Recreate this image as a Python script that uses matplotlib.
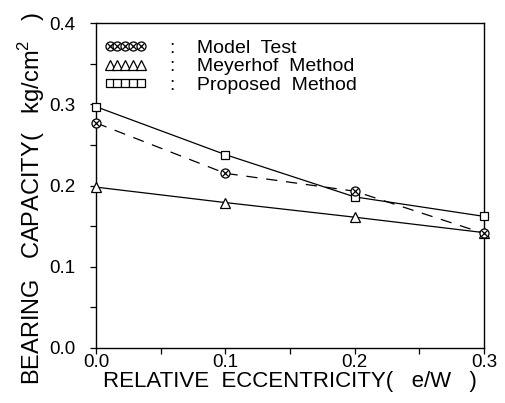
import matplotlib
matplotlib.use("Agg")
import matplotlib.pyplot as plt
from matplotlib.lines import Line2D
from matplotlib.legend_handler import HandlerTuple

plt.rcParams['font.family'] = ['Liberation Sans', 'DejaVu Sans']
plt.rcParams['mathtext.fontset'] = 'custom'
plt.rcParams['mathtext.rm'] = 'Liberation Sans'

ecc = [0.0, 0.1, 0.2, 0.3]
model_test = [0.277, 0.215, 0.193, 0.141]
meyerhof = [0.198, 0.179, 0.161, 0.142]
proposed = [0.297, 0.238, 0.186, 0.162]

xticks = [0.0, 0.1, 0.2, 0.3]
yticks = [0.0, 0.1, 0.2, 0.3, 0.4]

fig = plt.figure(figsize=(5.06, 4.03), dpi=100)
ax = fig.add_axes([96/506, 1-348/403, (484-96)/506, (348-23)/403])

ms = 6.5
lw = 0.9
mk = dict(mfc='white', mec='black', mew=0.9, clip_on=False)
ax.plot(ecc, proposed, color='black', lw=lw, marker='s', ms=ms-0.5, zorder=3, **mk)
ax.plot(ecc, meyerhof, color='black', lw=lw, marker='^', ms=ms, zorder=3, **mk)
ax.plot(ecc, model_test, color='black', lw=lw, ls=(0, (9, 7)), marker='o', ms=ms, zorder=4, **mk)
ax.plot(ecc, model_test, ls='none', marker='x', ms=ms-2.5, mec='black', mew=0.9, zorder=5, clip_on=False)

ax.set_xlim(0, 0.3)
ax.set_ylim(0, 0.4)
ax.set_xticks(xticks)
ax.set_yticks(yticks)
ax.set_xticklabels([f"{v:.1f}" for v in xticks])
ax.set_yticklabels([f"{v:.1f}" for v in yticks])
ax.set_xticks([0.05, 0.15, 0.25], minor=True)
ax.set_yticks([0.05, 0.15, 0.25, 0.35], minor=True)
ax.tick_params(which='both', direction='out', length=4, width=0.9, labelsize=13.5, color='black')
ax.tick_params(axis='y', pad=11)
ax.tick_params(axis='x', pad=0)
for s in ax.spines.values():
    s.set_linewidth(1.0)

ax.set_xlabel("RELATIVE  ECCENTRICITY(   e/W   )", fontsize=16, labelpad=0.5)
ax.set_ylabel("BEARING   CAPACITY(   kg/cm$^2$   )", fontsize=17, labelpad=0)
ax.yaxis.set_label_coords(-0.125, 0.46)

h_circ = Line2D([], [], ls='none', marker='o', ms=ms, mfc='white', mec='black', mew=0.9)
h_x = Line2D([], [], ls='none', marker='x', ms=ms-2.5, mec='black', mew=0.9)
h_tri = Line2D([], [], ls='none', marker='^', ms=ms, mfc='white', mec='black', mew=0.9)
h_sq = Line2D([], [], ls='none', marker='s', ms=ms-0.5, mfc='white', mec='black', mew=0.9)
leg = ax.legend([(h_circ, h_x), h_tri, h_sq],
                [":    Model  Test", ":    Meyerhof  Method", ":    Proposed  Method"],
                handler_map={tuple: HandlerTuple(ndivide=1, pad=0)},
                numpoints=5, loc='upper left', bbox_to_anchor=(0.02, 0.95),
                frameon=False, fontsize=14, handlelength=2.2, handletextpad=1.2,
                labelspacing=0.05, borderpad=0, borderaxespad=0)

fig.savefig("out.png", dpi=100)
